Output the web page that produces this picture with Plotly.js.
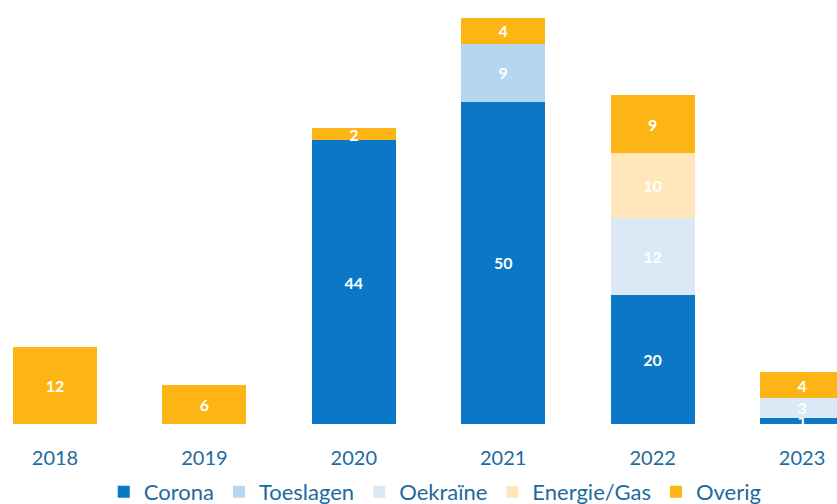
<!DOCTYPE html>
<html>
<head>
<meta charset="utf-8">
<script src="https://cdn.plot.ly/plotly-3.0.1.min.js"></script>
<style>html,body{margin:0;padding:0;background:#fff;}#chart{width:837px;height:504px;}</style>
</head>
<body>
<div id="chart"></div>
<script>
const years = ['2018', '2019', '2020', '2021', '2022', '2023'];
const corona = [null, null, 44, 50, 20, 1];
const toeslagen = [null, null, null, 9, null, null];
const oekraine = [null, null, null, null, 12, 3];
const energieGas = [null, null, null, null, 10, null];
const overig = [12, 6, 2, 4, 9, 4];

const seriesNames = ['Corona', 'Toeslagen', 'Oekraïne', 'Energie/Gas', 'Overig'];
const seriesValues = [corona, toeslagen, oekraine, energieGas, overig];
const seriesColors = ['#0A78C6', '#B4D6EE', '#DAE9F5', '#FFE6BB', '#FDB515'];

const traces = seriesNames.map((name, i) => ({
  type: 'bar',
  name: name,
  x: years,
  y: seriesValues[i],
  text: seriesValues[i].map(v => v == null ? '' : String(v)),
  textposition: 'inside',
  insidetextanchor: 'middle',
  textangle: 0,
  constraintext: 'none',
  textfont: {family: 'Lato, sans-serif', size: 16, color: '#ffffff', weight: 'bold'},
  marker: {color: seriesColors[i], line: {width: 0}},
  hoverinfo: 'x+y+name'
}));

const layout = {
  width: 837,
  height: 504,
  barmode: 'stack',
  bargap: 0.438,
  margin: {l: 0, r: 0, t: 0, b: 80},
  paper_bgcolor: '#ffffff',
  plot_bgcolor: '#ffffff',
  showlegend: true,
  xaxis: {
    type: 'category',
    range: [-0.368, 5.234],
    showline: false,
    showgrid: false,
    zeroline: false,
    ticks: 'outside',
    ticklen: 16,
    tickcolor: 'rgba(0,0,0,0)',
    tickfont: {family: 'Lato, sans-serif', size: 20, color: '#1F6A9C'}
  },
  yaxis: {
    range: [0, 65.8],
    visible: false,
    showgrid: false,
    zeroline: false
  },
  legend: {
    orientation: 'h',
    xref: 'container',
    yref: 'container',
    x: 0.52,
    xanchor: 'center',
    y: 0.024,
    yanchor: 'middle',
    font: {family: 'Lato, sans-serif', size: 22, color: '#1F6A9C'},
    itemwidth: 30,
    traceorder: 'normal'
  }
};

Plotly.newPlot('chart', traces, layout, {displayModeBar: false, staticPlot: true});
</script>
</body>
</html>
